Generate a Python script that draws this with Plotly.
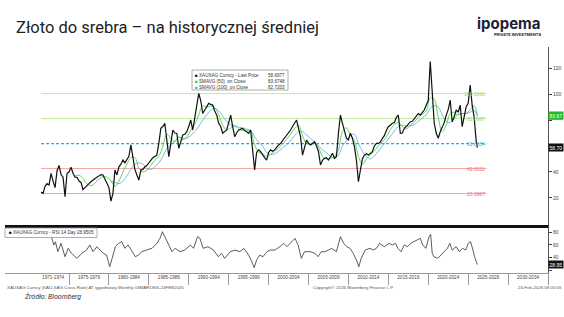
import plotly.graph_objects as go
from plotly.subplots import make_subplots

W, H = 564, 317
L, R, T, B = 5, 548, 47, 273          # plot area in pixels


def px(x):
    return (x - L) / (R - L)


def py(y):
    return (B - y) / (B - T)


# ---------------- data ----------------
price_start = 1971.5          # first quarterly point
price_q = [
    24.5, 23.6,                    # 1971 (Q3, Q4)
    29, 31, 30, 39,                # 1972
    33, 28, 41, 45,                # 1973
    38, 36, 21, 39,                # 1974
    40, 43.6, 39, 36,              # 1975
    35.9, 33, 32, 26.5,            # 1976
    28, 29.2, 31, 32.5,            # 1977
    34, 35, 36, 37,                # 1978
    38, 37.7, 33.8, 31.3,          # 1979
    28, 17.5, 23.6, 41.5,          # 1980
    37.7, 44, 46, 49.2,            # 1981
    47, 49.7, 52, 60.8,            # 1982
    49.2, 42, 37.7, 33.8,          # 1983
    41.5, 42, 44, 45,              # 1984
    47, 49.2, 51, 52,              # 1985
    53, 62, 73.6, 75,              # 1986
    77.5, 64.6, 51.8, 62,          # 1987
    72.3, 70, 69.8, 58.2,          # 1988
    64, 68.5, 69, 71,              # 1989
    75, 80, 72.3, 82,              # 1990
    90.2, 100.5, 95, 85,           # 1991
    87.7, 90, 92.8, 92,            # 1992
    91.5, 87, 83.8, 77.5,          # 1993
    75, 69.8, 71, 72.3,            # 1994
    78, 83.8, 75, 67.2,            # 1995
    70, 72.3, 73, 73.6,            # 1996
    72, 71, 69.8, 72.3,            # 1997
    54.4, 41.5, 55, 57,            # 1998
    55.6, 53, 51, 49.2,            # 1999
    55, 57, 56, 57,                # 2000
    59, 60.8, 62, 64,              # 2001
    65.9, 68, 70, 72.3,            # 2002
    75, 77.5, 80, 73.6,            # 2003
    67.2, 53, 60, 64.6,            # 2004
    62, 60.8, 62, 63.3,            # 2005
    60, 55.6, 45.4, 49,            # 2006
    50.5, 51, 49.2, 52,            # 2007
    54.4, 50.5, 52, 70,            # 2008
    83.8, 77.5, 71, 66,            # 2009
    64.6, 69.8, 66, 59.5,          # 2010
    49.2, 32.5, 41.5, 50,          # 2011
    53, 54, 53, 54,                # 2012
    55.6, 60, 62, 62,              # 2013
    63, 65.9, 68, 72,              # 2014
    74.9, 76, 77.5, 78,            # 2015
    82, 83.8, 69.8, 70,            # 2016
    73.6, 75, 77, 78.7,            # 2017
    79, 81.3, 83, 85,              # 2018
    83.8, 86, 87.7, 91.5,          # 2019
    95, 125, 103, 77.5,            # 2020
    70, 66, 71, 74,                # 2021
    78, 83.8, 88, 95.4,            # 2022
    78.7, 82.5, 87.7, 86,          # 2023
    91.5, 74.9, 84, 90.2,          # 2024
    92.8, 107, 91.5, 82,           # 2025
    64,                            # 2026 Q1
]
last_year = 2026.15
last_price = 58.6977

sma50_start = 1975.75
sma50 = [
    37, 37.5, 35, 31, 29.5, 31.5, 34.5, 36.5, 36, 33, 29, 33, 40, 46, 51, 51,
    43, 40, 41.5, 45, 49, 52, 60, 69, 66, 63, 67, 65, 67, 72, 77, 84,
    91, 90, 90.5, 89.5, 84, 76, 72.5, 74, 76, 73, 72, 72, 71, 61, 55, 54,
    52, 53.5, 56, 58.5, 61.5, 65, 69, 73.5, 76, 68, 62, 62, 62, 59, 52, 50,
    50.5, 52, 57, 71, 74, 68, 64, 52, 46, 50, 53.5, 56, 60, 63, 67, 72.5,
    76.5, 78, 75, 73, 76, 78.5, 82, 84.5, 87, 97, 96, 82, 71, 76, 85, 86,
    84, 85, 85, 88, 91,
]
sma50_last = 83.6748

sma100_start = 1980.25
sma100 = [
    33, 32, 31, 33, 37, 42, 46, 47, 46, 43, 42, 44, 47, 52, 58, 61,
    64, 66.5, 66, 66, 68, 71, 75, 80, 84, 87.5, 89, 87, 83, 79, 76, 75,
    74.5, 74, 73, 72, 67, 63, 60, 55, 53.5, 54, 56, 58.5, 61, 64, 68, 71,
    71, 68.5, 66, 63, 60.5, 57, 55, 52, 51, 53, 60, 64, 68, 69, 62, 56,
    52, 50, 52.5, 56, 60, 63.5, 67.5, 71.5, 75, 76, 75.5, 75.5, 76.5, 79, 81.5, 84,
    89, 91, 90, 84, 79, 78, 81, 84.5, 85, 85, 86, 87.5,
]
sma100_last = 82.7203

level_values = [100.3341, 81.0997, 61.8654, 42.6311, 23.3967]
level_labels = ["100.3341", "81.0997", "61.8654", "42.6311", "23.3967"]
level_end = 2027.3

rsi_years = [
    1972.6, 1972.9, 1973.1, 1973.3, 1973.6, 1974.0, 1974.5, 1974.9, 1975.3, 1976.0,
    1976.6, 1977.2, 1977.6, 1978.0, 1978.5, 1978.9, 1979.3, 1979.7, 1980.1, 1980.4,
    1980.8, 1981.2, 1981.6, 1982.0, 1982.4, 1982.8, 1983.3, 1983.7, 1984.1, 1984.7,
    1985.4, 1986.0, 1986.4, 1986.7, 1987.0, 1987.4, 1987.9, 1988.3, 1988.9, 1989.5,
    1990.2, 1990.6, 1991.1, 1991.4, 1991.8, 1992.4, 1993.1, 1993.7, 1994.1, 1994.5,
    1995.2, 1995.8, 1996.4, 1996.9, 1997.5, 1997.9, 1998.2, 1998.5, 1998.9, 1999.3,
    1999.8, 2000.2, 2000.8, 2001.4, 2001.9, 2002.3, 2002.9, 2003.3, 2003.7, 2004.1,
    2004.5, 2005.2, 2005.8, 2006.2, 2006.6, 2007.1, 2007.5, 2007.9, 2008.5, 2009.0,
    2009.4, 2009.8, 2010.2, 2010.6, 2011.0, 2011.3, 2011.6, 2012.1, 2012.7, 2013.1,
    2013.5, 2013.9, 2014.5, 2015.1, 2015.5, 2015.9, 2016.2, 2016.6, 2017.0, 2017.4,
    2017.8, 2018.2, 2018.6, 2019.0, 2019.3, 2019.7, 2020.1, 2020.3, 2020.5, 2020.7,
    2021.2, 2021.6, 2022.0, 2022.4, 2022.7, 2023.0, 2023.5, 2023.9, 2024.3, 2024.7,
    2025.0, 2025.3, 2025.6, 2025.8, 2026.15,
]
rsi_values = [
    81, 67.8, 60, 65, 49.4, 62.6, 41.5, 54.7, 46.8, 38.9,
    46.8, 52, 60, 49.4, 57.3, 52, 46.8, 44, 25.7, 38.9,
    57.3, 62.6, 65.2, 54.7, 60, 52, 41.5, 44, 49.4, 52,
    54.7, 62.6, 70.5, 81, 73, 60, 49.4, 54.7, 49.4, 52,
    60, 54.7, 73, 70.5, 54.7, 57.3, 52, 41.5, 46.8, 38.9,
    49.4, 52, 49.4, 54.7, 44, 33.6, 24.1, 36.2, 44, 41.5,
    49.4, 52, 52, 57.3, 62.6, 57.3, 65.2, 70.5, 60, 38.9,
    49.4, 49.4, 46.8, 41.5, 49.4, 49.4, 52, 54.7, 49.4, 73,
    62.6, 57.3, 54.7, 46.8, 36.2, 25.7, 38.9, 52, 54.7, 52,
    54.7, 62.6, 57.3, 62.6, 60, 62.6, 54.7, 49.4, 60, 57.3,
    62.6, 65.2, 67.8, 70.5, 60, 54.7, 73, 76.8, 46.8, 41.5,
    38.9, 44, 49.4, 54.7, 62.6, 52, 57.3, 49.4, 54.7, 52,
    62.6, 65.2, 52, 41.5, 28.9505,
]

period_bounds = [1975, 1980, 1985, 1990, 1995, 2000, 2005, 2010, 2015, 2020, 2025, 2030, 2035]
period_mids = [1973, 1977.5, 1982.5, 1987.5, 1992.5, 1997.5, 2002.5, 2007.5, 2012.5,
               2017.5, 2022.5, 2027.5, 2032.5]
period_labels = ["1971-1974", "1975-1979", "1980-1984", "1985-1989", "1990-1994", "1995-1999",
                 "2000-2004", "2005-2009", "2010-2014", "2015-2019", "2020-2024", "2025-2029",
                 "2030-2034"]

top_ticks = [20, 40, 60, 80, 100, 120]
top_tick_text = ["20", "40", "", "", "100", "120"]   # 60/80 are covered by value tags
rsi_ticks = [20, 40, 60, 80]
rsi_tick_text = ["", "40", "60", "80"]              # 20 is covered by the RSI tag

# ---------------- derived x arrays ----------------
price_years = [price_start + 0.25 * i for i in range(len(price_q))] + [last_year]
price_vals = price_q + [last_price]
sma50_years = [sma50_start + 0.5 * i for i in range(len(sma50))] + [last_year]
sma50_vals = sma50 + [sma50_last]
sma100_years = [sma100_start + 0.5 * i for i in range(len(sma100))] + [last_year]
sma100_vals = sma100 + [sma100_last]

GREEN_MA = "#39cc39"
BLUE_MA = "#5aa5e6"
LVL_GREEN = "#b8e88c"
LVL_CYAN = "#1eaaf0"
LVL_RED = "#f39a9a"
level_colors = [LVL_GREEN, LVL_GREEN, LVL_CYAN, LVL_RED, LVL_RED]
level_dash = ["solid", "solid", "3px,2px", "solid", "solid"]
level_width = [0.9, 0.9, 1.1, 0.9, 0.9]
label_colors = ["#9ad46a", "#9ad46a", "#3ab0e0", "#e87070", "#e87070"]

FONT = "Liberation Sans"

fig = make_subplots(rows=2, cols=1, shared_xaxes=True)

for v, c, d, w in zip(level_values, level_colors, level_dash, level_width):
    fig.add_trace(go.Scatter(
        x=[price_years[0], level_end], y=[v, v], mode="lines",
        line=dict(color=c, width=w, dash=d),
        hoverinfo="skip", showlegend=False), row=1, col=1)

fig.add_trace(go.Scatter(x=sma100_years, y=sma100_vals, mode="lines",
                         line=dict(color=BLUE_MA, width=0.8, shape="spline"),
                         showlegend=False), row=1, col=1)
fig.add_trace(go.Scatter(x=sma50_years, y=sma50_vals, mode="lines",
                         line=dict(color=GREEN_MA, width=0.8, shape="spline"),
                         showlegend=False), row=1, col=1)
fig.add_trace(go.Scatter(x=price_years, y=price_vals, mode="lines",
                         line=dict(color="#111111", width=1.2),
                         showlegend=False), row=1, col=1)

fig.add_trace(go.Scatter(x=rsi_years, y=rsi_values, mode="lines",
                         line=dict(color="#333333", width=0.8),
                         showlegend=False), row=2, col=1)

x_range = [1966.98, 2035.0]

fig.update_layout(
    width=W, height=H,
    margin=dict(l=L, r=W - R, t=T, b=H - B, autoexpand=False),
    paper_bgcolor="white", plot_bgcolor="white",
    template="none",
    showlegend=False,
    font=dict(family=FONT, size=5, color="#333333"),
    xaxis=dict(domain=[0, 1], range=x_range, showticklabels=False, ticks="",
               showgrid=False, zeroline=False, showline=True, linecolor="#111111",
               linewidth=2.5, mirror=False, automargin=False),
    yaxis=dict(domain=[py(225), 1], range=[-0.8, 136.2], side="right",
               tickvals=top_ticks, ticktext=top_tick_text, ticks="outside", ticklen=3,
               tickcolor="#444444", tickfont=dict(size=5, color="#444444"),
               showgrid=False, zeroline=False, showline=True, linecolor="#555555",
               linewidth=1, automargin=False),
    xaxis2=dict(domain=[0, 1], range=x_range, tickvals=period_mids, ticktext=period_labels,
                ticks="", tickfont=dict(size=4.6, color="#444444"),
                minor=dict(tickvals=period_bounds, ticks="outside", ticklen=11,
                           tickcolor="#999999", tickwidth=0.8),
                showgrid=False, zeroline=False, showline=True, linecolor="#999999",
                linewidth=0.8, automargin=False),
    yaxis2=dict(domain=[0, py(226)], range=[15.7, 90], side="right",
                tickvals=rsi_ticks, ticktext=rsi_tick_text, ticks="outside", ticklen=3,
                tickcolor="#444444", tickfont=dict(size=5, color="#444444"),
                showgrid=False, zeroline=False, showline=True, linecolor="#555555",
                linewidth=1, automargin=False),
)

annotations = []
# level labels
for v, lab, c in zip(level_values, level_labels, label_colors):
    annotations.append(dict(x=level_end, y=v, xref="x", yref="y", text=lab,
                            showarrow=False, xanchor="right", yanchor="middle",
                            font=dict(size=5, color=c, family=FONT)))

# right-axis value tags (blue SMA tag sits under the green one as a sliver)
tags = [(sma50_last, "#22bb22", "y"), (last_price, "#111111", "y"),
        (rsi_values[-1], "#111111", "y2")]
for v, c, yr in tags:
    annotations.append(dict(x=1.0, y=v, xref="paper", yref=yr, text=f"{v:.2f}",
                            showarrow=False, xanchor="left", yanchor="middle",
                            bgcolor=c, borderpad=0.6,
                            font=dict(size=5, color="white", family=FONT)))

# top legend box
annotations.append(dict(
    x=px(193), y=py(71), xref="paper", yref="paper", xanchor="left", yanchor="top",
    showarrow=False, align="left",
    text=("<span style='color:#111111'>■</span> XAUXAG Curncy - Last Price<br>"
          f"<span style='color:{GREEN_MA}'>■</span> SMAVG (50)  on Close<br>"
          f"<span style='color:{BLUE_MA}'>■</span> SMAVG (100)  on Close"),
    font=dict(size=4.6, color="#333333", family=FONT)))
annotations.append(dict(
    x=px(287), y=py(71), xref="paper", yref="paper", xanchor="right", yanchor="top",
    showarrow=False, align="right",
    text=f"{last_price:.4f}<br>{sma50_last:.4f}<br>{sma100_last:.4f}",
    font=dict(size=4.6, color="#333333", family=FONT)))

# RSI legend
annotations.append(dict(
    x=px(7), y=py(232.5), xref="paper", yref="paper", xanchor="left", yanchor="middle",
    showarrow=False, align="left",
    text=f"<span style='color:#111111'>■</span> XAUXAG Curncy - RSI 14 Day {rsi_values[-1]:.4f}",
    font=dict(size=4.6, color="#333333", family=FONT)))

# footer texts
annotations += [
    dict(x=px(5), y=py(287), xref="paper", yref="paper", xanchor="left", yanchor="middle",
         showarrow=False,
         text="XAUXAG Curncy (XAU-XAG Cross Rate) AT tygodniowy Monthly 03MAR1966-24FEB2026",
         font=dict(size=4.4, color="#555555", family=FONT)),
    dict(x=px(311), y=py(287), xref="paper", yref="paper", xanchor="left", yanchor="middle",
         showarrow=False, text="Copyright© 2026 Bloomberg Finance L.P.",
         font=dict(size=4.4, color="#555555", family=FONT)),
    dict(x=px(564), y=py(287), xref="paper", yref="paper", xanchor="right", yanchor="middle",
         showarrow=False, text="24-Feb-2026 08:00:05",
         font=dict(size=4.4, color="#555555", family=FONT)),
    dict(x=px(22), y=py(296), xref="paper", yref="paper", xanchor="left", yanchor="middle",
         showarrow=False, text="<i>Źródło: Bloomberg</i>",
         font=dict(size=7, color="#333333", family="Roboto")),
    # title
    dict(x=px(14), y=py(27), xref="paper", yref="paper", xanchor="left", yanchor="middle",
         showarrow=False, text="Złoto do srebra – na historycznej średniej",
         font=dict(size=16.5, color="#222222", family="Roboto")),
    # logo
    dict(x=px(509), y=py(23), xref="paper", yref="paper", xanchor="center", yanchor="middle",
         showarrow=False, text="<b>ipopema</b>",
         font=dict(size=15, color="#1f1f33", family="Inter")),
    dict(x=px(543), y=py(35), xref="paper", yref="paper", xanchor="right", yanchor="middle",
         showarrow=False, text="<b>PRIVATE INVESTMENTS</b>",
         font=dict(size=4, color="#1f1f33", family="Inter")),
]
fig.update_layout(annotations=annotations)

shapes = [
    dict(type="rect", xref="paper", yref="paper", x0=px(192), x1=px(288), y0=py(90), y1=py(70),
         line=dict(color="#999999", width=0.8), fillcolor="rgba(0,0,0,0)", layer="above"),
    dict(type="rect", xref="paper", yref="paper", x0=px(5), x1=px(97), y0=py(237.5), y1=py(228),
         line=dict(color="#999999", width=0.8), fillcolor="white", layer="above"),
    # blue SMA(100) tag peeking below the green tag
    dict(type="rect", xref="paper", yref="y", x0=1.0, x1=px(563), y0=sma100_last - 2.6,
         y1=sma100_last - 0.6, line=dict(width=0), fillcolor=BLUE_MA, layer="below"),
]
fig.update_layout(shapes=shapes)

fig.write_html("out.html")
